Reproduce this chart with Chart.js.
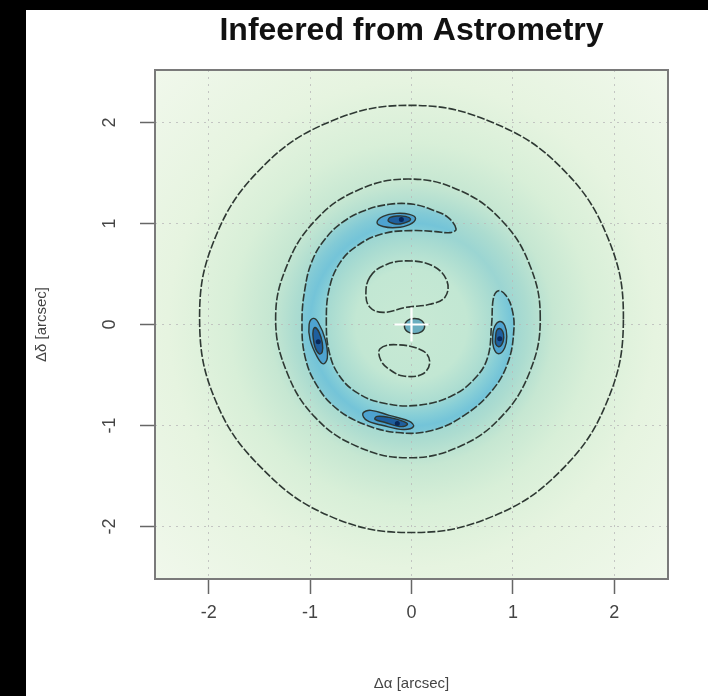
<!DOCTYPE html>
<html>
<head>
<meta charset="utf-8">
<script src="https://cdn.jsdelivr.net/npm/chart.js@4.4.1/dist/chart.umd.min.js"></script>
<style>
  html, body { margin: 0; background: #000; }
  #wrap { position: absolute; left: 26px; top: 10px; width: 682px; height: 686px; background: #fff; }
</style>
</head>
<body>
<div id="wrap"><canvas id="astro"></canvas></div>
<script>
// axis ticks
const xTickValues = [-2, -1, 0, 1, 2];
const yTickValues = [-2, -1, 0, 1, 2];

// contour lines, [dAlpha, dDelta] in arcsec
const outerRing = [[2.09, 0.05], [1.94, 0.85], [1.48, 1.55], [0.80, 2.00], [0.0, 2.17], [-0.80, 2.01], [-1.48, 1.55], [-1.94, 0.85],
  [-2.09, 0.05], [-1.93, -0.76], [-1.47, -1.43], [-0.80, -1.90], [0.0, -2.06], [0.80, -1.90], [1.47, -1.45], [1.93, -0.76]];
const midRing = [[1.27, 0.06], [1.17, 0.58], [0.89, 1.03], [0.47, 1.33], [-0.03, 1.44], [-0.53, 1.33], [-0.95, 1.03], [-1.23, 0.58],
  [-1.34, 0.06], [-1.23, -0.47], [-0.95, -0.92], [-0.53, -1.21], [-0.03, -1.32], [0.47, -1.21], [0.89, -0.91], [1.17, -0.46]];
const crescent = [[0.44, 0.945], [0.36, 1.06], [0.22, 1.13], [0.02, 1.19], [-0.22, 1.19], [-0.46, 1.13], [-0.67, 1.02], [-0.85, 0.85],
  [-0.98, 0.63], [-1.05, 0.36], [-1.08, 0.03], [-1.05, -0.32], [-0.93, -0.61], [-0.73, -0.84], [-0.46, -0.99], [-0.14, -1.07],
  [0.20, -1.05], [0.52, -0.90], [0.79, -0.66], [0.95, -0.38], [1.01, -0.05], [0.99, 0.16], [0.93, 0.29], [0.86, 0.335],
  [0.81, 0.27], [0.79, 0.0], [0.75, -0.33], [0.62, -0.54], [0.39, -0.71], [0.06, -0.80], [-0.27, -0.78], [-0.53, -0.68],
  [-0.71, -0.51], [-0.81, -0.28], [-0.84, 0.02], [-0.81, 0.36], [-0.70, 0.62], [-0.52, 0.79], [-0.28, 0.90], [0.0, 0.93],
  [0.24, 0.92], [0.38, 0.91]];
const upperHollow = [[-0.41, 0.47], [-0.28, 0.58], [-0.05, 0.63], [0.21, 0.58], [0.35, 0.43], [0.33, 0.27], [0.18, 0.20],
  [-0.05, 0.17], [-0.28, 0.12], [-0.41, 0.17], [-0.45, 0.31]];
const lowerHollow = [[-0.31, -0.24], [-0.15, -0.20], [0.11, -0.26], [0.18, -0.37], [0.11, -0.49], [-0.08, -0.51], [-0.21, -0.45],
  [-0.30, -0.36]];
const centreSpot = [[0.13, -0.02], [0.10, 0.04], [0.03, 0.06], [-0.04, 0.04], [-0.07, -0.02], [-0.04, -0.07], [0.03, -0.09], [0.10, -0.07]];

// the four density peaks on the ring: outer and inner contour
const peakTop = [[0.04, 1.05], [-0.02, 1.09], [-0.15, 1.10], [-0.28, 1.07], [-0.34, 1.01], [-0.28, 0.97], [-0.15, 0.96], [-0.02, 0.99]];
const peakTopIn = [[-0.01, 1.045], [-0.06, 1.07], [-0.13, 1.075], [-0.21, 1.06], [-0.23, 1.025], [-0.18, 1.0], [-0.11, 0.995], [-0.04, 1.015]];
const peakRight = [[0.87, 0.03], [0.92, -0.01], [0.94, -0.12], [0.92, -0.23], [0.86, -0.29], [0.81, -0.23], [0.80, -0.12], [0.82, -0.02]];
const peakRightIn = [[0.87, -0.04], [0.90, -0.07], [0.91, -0.13], [0.89, -0.20], [0.86, -0.22], [0.83, -0.19], [0.83, -0.12], [0.84, -0.06]];
const peakLeft = [[-0.97, 0.06], [-0.92, 0.02], [-0.85, -0.15], [-0.83, -0.33], [-0.87, -0.39], [-0.93, -0.32], [-1.0, -0.15], [-1.01, 0.0]];
const peakLeftIn = [[-0.95, -0.03], [-0.91, -0.08], [-0.88, -0.18], [-0.88, -0.27], [-0.91, -0.29], [-0.95, -0.23], [-0.97, -0.13], [-0.97, -0.06]];
const peakBottom = [[-0.48, -0.88], [-0.40, -0.85], [-0.22, -0.90], [-0.02, -0.96], [0.02, -1.01], [-0.08, -1.04], [-0.28, -1.00], [-0.44, -0.95]];
const peakBottomIn = [[-0.34, -0.91], [-0.22, -0.92], [-0.08, -0.96], [-0.04, -0.99], [-0.12, -1.01], [-0.26, -0.97], [-0.36, -0.94]];
const peakCores = [[-0.10, 1.04], [0.87, -0.14], [-0.92, -0.17], [-0.14, -0.98]];

// radial shading of the density field (GnBu-like)
const shadeRadius = [0, 0.55, 0.8, 0.95, 1.15, 1.4, 1.8, 2.4, 3.6];
const shadeColour = ['#c8e9d4', '#c2e7d3', '#aadcd1', '#9bd5d2', '#acdcd0', '#c6e7d2', '#d8efd8', '#e6f4e0', '#f1f8ec'];
const bandRadius = [0, 0.75, 0.9, 1.0, 1.1, 1.3];
const bandColour = ['#a6dbd2', '#a6dbd2', '#86ced7', '#74c4d8', '#82cad6', '#a8dad1'];

const FONT = 'Liberation Sans, Arial, Helvetica, sans-serif';
const LINE = '#2e3833';

function radialFill(chart, radii, colours) {
  const {ctx, chartArea, scales} = chart;
  if (!chartArea || !scales.x) return 'transparent';
  const cx = scales.x.getPixelForValue(0);
  const cy = scales.y.getPixelForValue(0);
  const rMax = radii[radii.length - 1];
  const R = scales.x.getPixelForValue(rMax) - cx;
  const g = ctx.createRadialGradient(cx, cy, 0, cx, cy, R);
  radii.forEach((r, i) => g.addColorStop(r / rMax, colours[i]));
  return g;
}

// closed contour: the line element is flagged as a loop so the spline wraps round
function contour(pairs, extra) {
  return Object.assign({
    data: pairs.map(([x, y]) => ({x, y})),
    closed: true,
    showLine: true,
    pointRadius: 0,
    borderColor: LINE,
    borderWidth: 1.6,
    borderDash: [8, 2],
    tension: 0.4,
    fill: false
  }, extra || {});
}

const closeLoops = {
  id: 'closeLoops',
  afterDatasetUpdate(chart, args) {
    const line = args.meta.dataset;
    if (line && chart.data.datasets[args.index].closed) {
      line._loop = true;
      line._fullLoop = true;
    }
  },
  // scatter lines without a fill never get their bezier points otherwise
  beforeDatasetsDraw(chart) {
    chart.getSortedVisibleDatasetMetas().forEach(meta => {
      if (meta.dataset && chart.data.datasets[meta.index].closed) {
        meta.dataset.updateControlPoints(chart.chartArea, 'x');
      }
    });
  }
};

// background field and frame
const fieldShade = {
  id: 'fieldShade',
  beforeDraw(chart) {
    const {ctx, chartArea: a} = chart;
    ctx.save();
    ctx.fillStyle = radialFill(chart, shadeRadius, shadeColour);
    ctx.fillRect(a.left, a.top, a.width, a.height);
    ctx.restore();
  },
  afterDraw(chart) {
    const {ctx, chartArea: a} = chart;
    ctx.save();
    ctx.strokeStyle = '#7a7a7a';
    ctx.lineWidth = 2;
    ctx.strokeRect(a.left, a.top, a.width, a.height);
    ctx.restore();
  }
};

const peakOuter = {fill: 'shape', backgroundColor: '#4ea3d0', borderDash: [], borderWidth: 1.4};
const peakInner = {fill: 'shape', backgroundColor: '#1f5f9e', borderDash: [], borderWidth: 1.4};

new Chart(document.getElementById('astro'), {
  type: 'scatter',
  data: {
    datasets: [
      {data: [{x: 0, y: 0}], pointStyle: 'cross', pointRadius: 17, pointBorderColor: '#ffffff', pointBorderWidth: 2.2},
      {data: peakCores.map(([x, y]) => ({x, y})), pointRadius: 2.5, pointBackgroundColor: '#08285a', pointBorderWidth: 0},
      contour(peakTopIn, peakInner),
      contour(peakRightIn, peakInner),
      contour(peakLeftIn, peakInner),
      contour(peakBottomIn, peakInner),
      contour(peakTop, peakOuter),
      contour(peakRight, peakOuter),
      contour(peakLeft, peakOuter),
      contour(peakBottom, peakOuter),
      contour(centreSpot, {fill: 'shape', backgroundColor: '#6aaec0', borderDash: [], borderWidth: 1.4}),
      contour(upperHollow),
      contour(lowerHollow),
      contour(crescent, {fill: 'shape', backgroundColor: c => radialFill(c.chart, bandRadius, bandColour)}),
      contour(midRing),
      contour(outerRing)
    ]
  },
  options: {
    responsive: true,
    maintainAspectRatio: false,
    animation: false,
    layout: {padding: {left: 0, right: 40, top: 0, bottom: 0}},
    plugins: {
      legend: {display: false},
      tooltip: {enabled: false},
      title: {
        display: true,
        text: 'Infeered from Astrometry',
        fullSize: false,
        color: '#111',
        font: {family: FONT, size: 32, weight: 'bold'},
        padding: {top: 2, bottom: 19.6}
      }
    },
    scales: {
      x: {
        type: 'linear',
        min: -2.53,
        max: 2.53,
        z: 1,
        afterBuildTicks: s => { s.ticks = xTickValues.map(v => ({value: v})); },
        afterFit: s => { s.height = 117; },
        grid: {color: 'rgba(185,185,185,0.8)', lineWidth: 1, tickLength: 15, tickColor: '#666', tickWidth: 1.5},
        border: {display: false, dash: [2, 5]},
        ticks: {color: '#444', font: {family: FONT, size: 18}, padding: 8, callback: v => String(v)},
        title: {display: true, text: 'Δα [arcsec]', color: '#444', font: {family: FONT, size: 15}, padding: {top: 4, bottom: 3}}
      },
      y: {
        type: 'linear',
        min: -2.52,
        max: 2.52,
        z: 1,
        afterBuildTicks: s => { s.ticks = yTickValues.map(v => ({value: v})); },
        afterFit: s => { s.width = 129; },
        grid: {color: 'rgba(185,185,185,0.8)', lineWidth: 1, tickLength: 15, tickColor: '#666', tickWidth: 1.5},
        border: {display: false, dash: [2, 5]},
        ticks: {color: '#444', font: {family: FONT, size: 18}, padding: 22, minRotation: 90, maxRotation: 90, crossAlign: 'center', callback: v => String(v)},
        title: {display: true, text: 'Δδ [arcsec]', color: '#444', font: {family: FONT, size: 15}, padding: {top: 7, bottom: 7}}
      }
    }
  },
  plugins: [closeLoops, fieldShade]
});
</script>
</body>
</html>
